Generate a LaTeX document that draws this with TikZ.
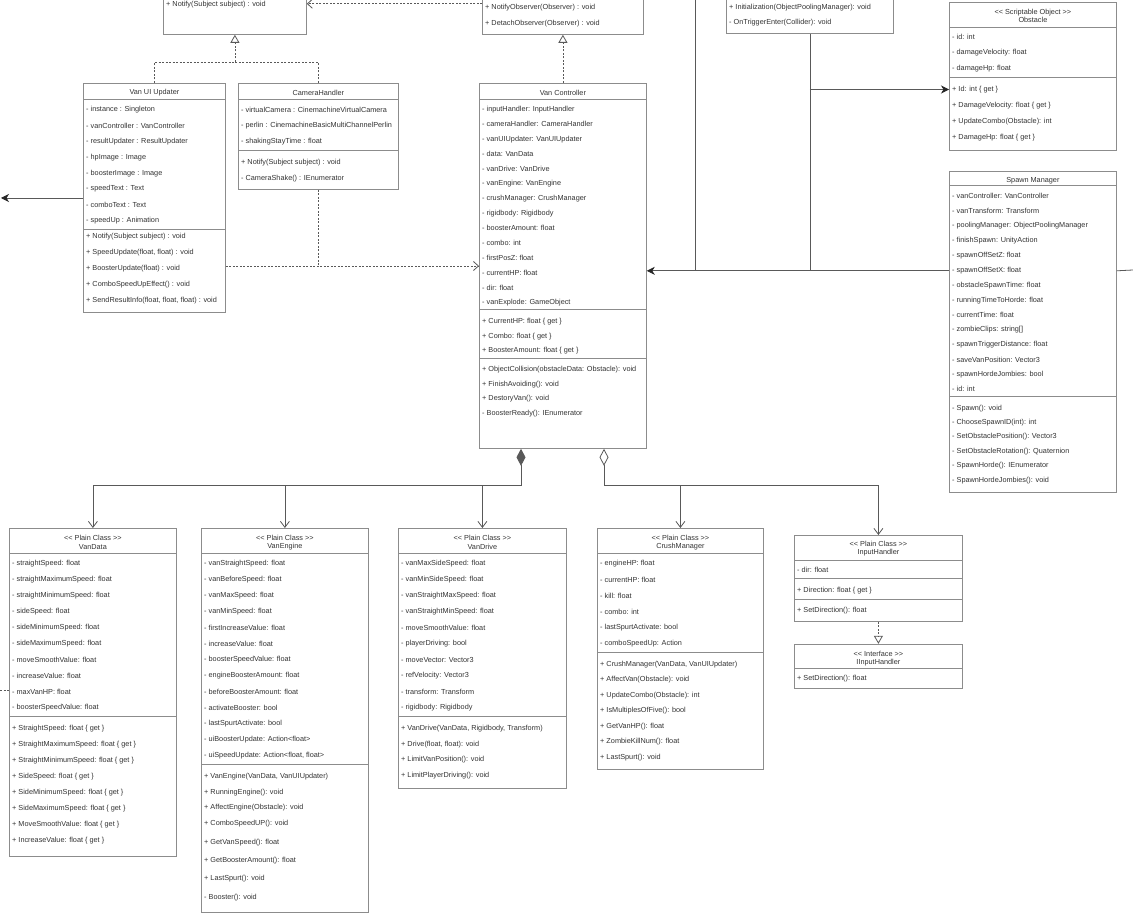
\documentclass[tikz,border=0pt]{standalone}
\usepackage{fontspec}
\setmainfont{Liberation Sans}
\usetikzlibrary{arrows.meta,calc,positioning}

\newcommand{\classfont}{\fontsize{7.3}{8.3}\selectfont}
\newcommand{\stereo}[1]{<\kern0pt< #1 >\kern0pt>}
\newcommand{\classhead}[3]{\node[head] (#1-head) at ($(#1.north)+(0,#2+1.5)$) {#3};}
\newcommand{\classline}[2]{\draw[cls] ($(#1.north west)+(0,#2)$) -- ($(#1.north east)+(0,#2)$);}
\newcommand{\classrows}[5]{%
	\foreach \txt [count=\idx from 0] in {#5}
		\node[entry] (#1-#2-\idx) at ($(#1.north west)+(3,#3+1.5+\idx*#4)$) {\txt};%
}

\begin{document}
\begin{tikzpicture}[x=1pt,y=-1pt,
	cls/.style={draw=black!45,line width=0.8pt},
	box/.style={cls,rectangle,fill=white,inner sep=0pt,anchor=north west},
	entry/.style={anchor=west,inner sep=0pt,font=\classfont,text=black!80},
	head/.style={inner sep=0pt,align=center,font=\classfont,text=black!80},
	link/.style={draw=black!65,line width=0.8pt},
	dashlink/.style={link,dash pattern=on 2pt off 1.5pt},
	dep/.style={dashlink,-{Straight Barb[length=5pt,width=9pt]}},
	realize/.style={dashlink,-{Triangle[open,length=8pt,width=9pt]}},
	assoc/.style={link,-{Straight Barb[length=6pt,width=9pt]}},
	nav/.style={link,-{Stealth[length=8pt,width=8pt,inset=2.5pt,color=black!85]}}]
	\useasboundingbox (0,0) rectangle (1133,920);
	\fill[white] (0,0) rectangle (1133,920);
	\clip (0,0) rectangle (1133,920);

	\node[box,minimum width=143pt,minimum height=94pt] (observer) at (163,-60) {};
	\node[box,minimum width=161pt,minimum height=94pt] (subject) at (482,-60) {};
	\node[box,minimum width=167pt,minimum height=93pt] (trigger) at (726,-60) {};
	\node[box,minimum width=167pt,minimum height=148pt] (obstacle) at (949,2) {};
	\node[box,minimum width=167pt,minimum height=321pt,below=20pt of obstacle] (spawn) {};
	\node[box,minimum width=142pt,minimum height=229pt] (vanui) at (83,83) {};
	\node[box,minimum width=160pt,minimum height=106pt] (camera) at (238,83) {};
	\node[box,minimum width=167pt,minimum height=365pt] (vanctrl) at (479,83) {};
	\node[box,minimum width=167pt,minimum height=328pt] (vandata) at (9,528) {};
	\node[box,minimum width=167pt,minimum height=384pt] (vanengine) at (201,528) {};
	\node[box,minimum width=168pt,minimum height=260pt] (vandrive) at (398,528) {};
	\node[box,minimum width=166pt,minimum height=241pt] (crush) at (597,528) {};
	\node[box,minimum width=168pt,minimum height=86pt] (input) at (794,535) {};
	\node[box,minimum width=168pt,minimum height=44pt,below=22pt of input] (iinput) {};

	\classrows{observer}{m}{63}{16}{+ Notify(Subject subject) : void}
	\classrows{subject}{m}{66}{16}{+ NotifyObserver(Observer) : void, + DetachObserver(Observer) : void}
	\classrows{trigger}{m}{66}{15}{+ Initialization(ObjectPoolingManager): void, - OnTriggerEnter(Collider): void}

	\classhead{obstacle}{12.5}{\stereo{Scriptable Object}\\Obstacle}
	\classline{obstacle}{25}
	\classrows{obstacle}{a}{33}{16}{- id: int, - damageVelocity: float, - damageHp: float}
	\classline{obstacle}{75}
	\classrows{obstacle}{m}{86}{16}{+ Id: int \{ get \}, + DamageVelocity: float \{ get \}, + UpdateCombo(Obstacle): int, + DamageHp: float \{ get \}}

	\classhead{spawn}{8}{Spawn Manager}
	\classline{spawn}{15}
	\classrows{spawn}{a}{24}{14.85}{- vanController: VanController, - vanTransform: Transform, - poolingManager: ObjectPoolingManager, - finishSpawn: UnityAction, - spawnOffSetZ: float, - spawnOffSetX: float, - obstacleSpawnTime: float, - runningTimeToHorde: float, - currentTime: float, - zombieClips: string[], - spawnTriggerDistance: float, - saveVanPosition: Vector3, - spawnHordeJombies: bool, - id: int}
	\classline{spawn}{226}
	\classrows{spawn}{m}{236}{14.4}{- Spawn(): void, - ChooseSpawnID(int): int, - SetObstaclePosition(): Vector3, - SetObstacleRotation(): Quaternion, - SpawnHorde(): IEnumerator, - SpawnHordeJombies(): void}

	\classhead{vanui}{8}{Van UI Updater}
	\classline{vanui}{16}
	\classrows{vanui}{a}{25}{15.92}{- instance : Singleton, - vanController : VanController, - resultUpdater : ResultUpdater, - hpImage : Image, - boosterImage : Image, - speedText : Text, - comboText : Text, - speedUp : Animation}
	\classline{vanui}{146}
	\classrows{vanui}{m}{152}{15.92}{+ Notify(Subject subject) : void, {+ SpeedUpdate(float, float) : void}, + BoosterUpdate(float) : void, + ComboSpeedUpEffect() : void, {+ SendResultInfo(float, float, float) : void}}

	\classhead{camera}{8}{CameraHandler}
	\classline{camera}{16}
	\classrows{camera}{a}{25}{16}{- virtualCamera : CinemachineVirtualCamera, - perlin : CinemachineBasicMultiChannelPerlin, - shakingStayTime : float}
	\classline{camera}{67}
	\classrows{camera}{m}{78}{16}{+ Notify(Subject subject) : void, - CameraShake() : IEnumerator}

	\classhead{vanctrl}{8}{Van Controller}
	\classline{vanctrl}{16}
	\classrows{vanctrl}{a}{25}{14.85}{- inputHandler: InputHandler, - cameraHandler: CameraHandler, - vanUIUpdater: VanUIUpdater, - data: VanData, - vanDrive: VanDrive, - vanEngine: VanEngine, - crushManager: CrushManager, - rigidbody: Rigidbody, - boosterAmount: float, - combo: int, - firstPosZ: float, - currentHP: float, - dir: float, - vanExplode: GameObject}
	\classline{vanctrl}{226}
	\classrows{vanctrl}{p}{237}{14.7}{+ CurrentHP: float \{ get \}, + Combo: float \{ get \}, + BoosterAmount: float \{ get \}}
	\classline{vanctrl}{275}
	\classrows{vanctrl}{m}{285}{14.7}{+ ObjectCollision(obstacleData: Obstacle): void, + FinishAvoiding(): void, + DestoryVan(): void, - BoosterReady(): IEnumerator}

	\classhead{vandata}{13}{\stereo{Plain Class}\\VanData}
	\classline{vandata}{25}
	\classrows{vandata}{a}{34}{16}{- straightSpeed: float, - straightMaximumSpeed: float, - straightMinimumSpeed: float, - sideSpeed: float, - sideMinimumSpeed: float, - sideMaximumSpeed: float, - moveSmoothValue: float, - increaseValue: float, - maxVanHP: float, - boosterSpeedValue: float}
	\classline{vandata}{188}
	\classrows{vandata}{m}{199}{16}{+ StraightSpeed: float \{ get \}, + StraightMaximumSpeed: float \{ get \}, + StraightMinimumSpeed: float \{ get \}, + SideSpeed: float \{ get \}, + SideMinimumSpeed: float \{ get \}, + SideMaximumSpeed: float \{ get \}, + MoveSmoothValue: float \{ get \}, + IncreaseValue: float \{ get \}}

	\classhead{vanengine}{13}{\stereo{Plain Class}\\VanEngine}
	\classline{vanengine}{25}
	\classrows{vanengine}{a}{34}{16}{- vanStraightSpeed: float, - vanBeforeSpeed: float, - vanMaxSpeed: float, - vanMinSpeed: float, - firstIncreaseValue: float, - increaseValue: float, - boosterSpeedValue: float, - engineBoosterAmount: float, - beforeBoosterAmount: float, - activateBooster: bool, - lastSpurtActivate: bool, - uiBoosterUpdate: Action<float>, {- uiSpeedUpdate: Action<float, float>}}
	\classline{vanengine}{236}
	\classrows{vanengine}{m}{247}{15.7}{{+ VanEngine(VanData, VanUIUpdater)}, + RunningEngine(): void, + AffectEngine(Obstacle): void, + ComboSpeedUP(): void}
	\classrows{vanengine}{n}{313}{18.3}{+ GetVanSpeed(): float, + GetBoosterAmount(): float, + LastSpurt(): void, - Booster(): void}

	\classhead{vandrive}{13}{\stereo{Plain Class}\\VanDrive}
	\classline{vandrive}{25}
	\classrows{vandrive}{a}{34}{16}{- vanMaxSideSpeed: float, - vanMinSideSpeed: float, - vanStraightMaxSpeed: float, - vanStraightMinSpeed: float, - moveSmoothValue: float, - playerDriving: bool, - moveVector: Vector3, - refVelocity: Vector3, - transform: Transform, - rigidbody: Rigidbody}
	\classline{vandrive}{188}
	\classrows{vandrive}{m}{199}{15.7}{{+ VanDrive(VanData, Rigidbody, Transform)}, {+ Drive(float, float): void}, + LimitVanPosition(): void, + LimitPlayerDriving(): void}

	\classhead{crush}{13}{\stereo{Plain Class}\\CrushManager}
	\classline{crush}{25}
	\classrows{crush}{a}{34}{16}{- engineHP: float, - currentHP: float, - kill: float, - combo: int, - lastSpurtActivate: bool, - comboSpeedUp: Action}
	\classline{crush}{124}
	\classrows{crush}{m}{135}{15.5}{{+ CrushManager(VanData, VanUIUpdater)}, + AffectVan(Obstacle): void, + UpdateCombo(Obstacle): int, + IsMultiplesOfFive(): bool, + GetVanHP(): float, + ZombieKillNum(): float, + LastSpurt(): void}

	\classhead{input}{12}{\stereo{Plain Class}\\InputHandler}
	\classline{input}{25}
	\classrows{input}{a}{33}{16}{- dir: float}
	\classline{input}{43}
	\classrows{input}{p}{54}{16}{+ Direction: float \{ get \}}
	\classline{input}{64}
	\classrows{input}{m}{74}{16}{+ SetDirection(): float}

	\classhead{iinput}{13}{\stereo{Interface}\\IInputHandler}
	\classline{iinput}{25}
	\classrows{iinput}{m}{33}{16}{+ SetDirection(): float}

	\coordinate (obsjoin) at ($(observer.south)+(0,28)$);
	\draw[realize] (vanui.north) |- (obsjoin) -- (observer.south);
	\draw[dashlink] (camera.north) |- (obsjoin);
	\draw[realize] (vanctrl.north) -- (subject.south);
	\draw[realize] (input.south) -- (iinput.north);
	\draw[dep] ($(subject.south west)+(0,-31)$) -- ($(observer.south east)+(0,-31)$);

	\coordinate (uidep) at ($(vanui.north east)+(0,183)$);
	\draw[dep] (uidep) -- (uidep -| vanctrl.west);
	\draw[dashlink] (camera.south) -- (camera.south |- uidep);

	\coordinate (edgeleft) at (1,198);
	\coordinate (edgeleft2) at (0,690);
	\coordinate (edgetop) at (695,-5);
	\coordinate (edgeright) at (1133,270);
	\coordinate (spwest) at ($(spawn.north west)+(0,100)$);
	\draw[nav] (edgeleft -| vanui.west) -- (edgeleft);
	\draw[dashlink] (edgeleft2) -- (edgeleft2 -| vandata.west);
	\draw[nav] (spwest) -- (spwest -| vanctrl.east);
	\draw[link] (edgetop) -- (edgetop |- spwest);
	\draw[link] (trigger.south) -- (trigger.south |- spwest);
	\draw[nav] (trigger.south |- obstacle-m-0) -- (obstacle-m-0 -| obstacle.west);
	\draw[link] (spwest -| spawn.east) -- (edgeright);

	\coordinate (compo) at ($(vanctrl.south west)+(42,0)$);
	\coordinate (aggr) at ($(vanctrl.south west)+(125,0)$);
	\draw[link,{Diamond[length=17pt,width=9pt]}-] (compo) -- ++(0,37) coordinate (cbus);
	\foreach \target in {vandata,vanengine,vandrive}
		\draw[assoc] (cbus) -| (\target.north);
	\draw[link,{Diamond[open,length=17pt,width=9pt]}-] (aggr) -- ++(0,37) coordinate (abus);
	\foreach \target in {crush,input}
		\draw[assoc] (abus) -| (\target.north);
\end{tikzpicture}
\end{document}
